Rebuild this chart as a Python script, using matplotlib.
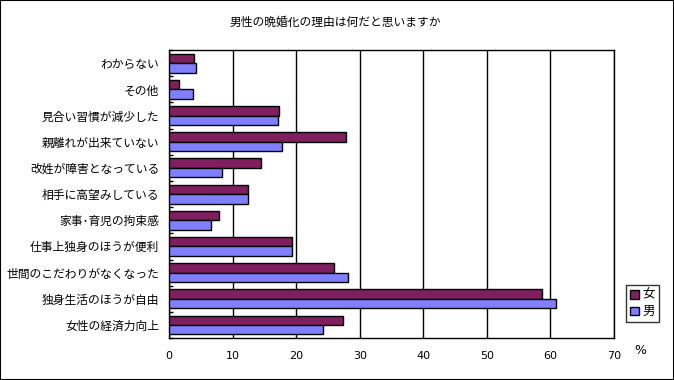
import matplotlib.pyplot as plt
import numpy as np
from matplotlib.patches import Rectangle

plt.rcParams['font.family'] = ['Noto Sans CJK JP', 'DejaVu Sans']

# categories listed bottom -> top
categories = ["女性の経済力向上", "独身生活のほうが自由", "世間のこだわりがなくなった",
              "仕事上独身のほうが便利", "家事･育児の拘束感", "相手に高望みしている",
              "改姓が障害となっている", "親離れが出来ていない", "見合い習慣が減少した",
              "その他", "わからない"]
female = [27.4, 58.6, 26.0, 19.4, 7.9, 12.5, 14.5, 27.9, 17.3, 1.6, 4.0]
male = [24.3, 60.9, 28.2, 19.4, 6.6, 12.5, 8.4, 17.8, 17.2, 3.8, 4.2]
x_ticks = [0, 10, 20, 30, 40, 50, 60, 70]

fig = plt.figure(figsize=(6.74, 3.80), dpi=100)
ax = fig.add_axes([0.2507, 0.1105, 0.6603, 0.7575])

y = np.arange(len(categories))
h = 0.36
ax.barh(y + h / 2, female, height=h, color="#7f1f5f", edgecolor="black", linewidth=1, label="女", zorder=3)
ax.barh(y - h / 2, male, height=h, color="#8080ff", edgecolor="black", linewidth=1, label="男", zorder=3)

ax.set_xlim(0, 70)
ax.set_ylim(-0.5, len(categories) - 0.5)
ax.set_xticks(x_ticks)
ax.set_xticklabels([str(t) for t in x_ticks], fontsize=8, family='DejaVu Sans')
ax.tick_params(axis='x', length=0, pad=9)
ax.set_yticks(y)
ax.set_yticklabels(categories, fontsize=8.5)
ax.tick_params(axis='y', length=0, pad=7)
# small inward ticks at category boundaries
ax.set_yticks(np.arange(len(categories) + 1) - 0.5, minor=True)
ax.tick_params(axis='y', which='minor', direction='in', length=3, width=1)
ax.grid(axis='x', color='black', linewidth=1, zorder=0)
for s in ax.spines.values():
    s.set_color('black')
    s.set_linewidth(1)

fig.text(0.497, 0.942, "男性の晩婚化の理由は何だと思いますか", fontsize=8.5, ha='center', va='center')
fig.text(0.95, 0.078, "%", fontsize=9, ha='center', va='center', family='DejaVu Sans')

leg = ax.legend(loc='lower left', bbox_to_anchor=(1.028, 0.055), fontsize=9, frameon=True,
                fancybox=False, edgecolor='black', handlelength=0.7, handleheight=0.7,
                handletextpad=0.3, borderpad=0.3, labelspacing=0.3, borderaxespad=0)
leg.get_frame().set_linewidth(1)

fig.patches.append(Rectangle((0, 0), 1, 1, transform=fig.transFigure, fill=False,
                             edgecolor='black', linewidth=1.5))

fig.savefig("out.png", dpi=100)
